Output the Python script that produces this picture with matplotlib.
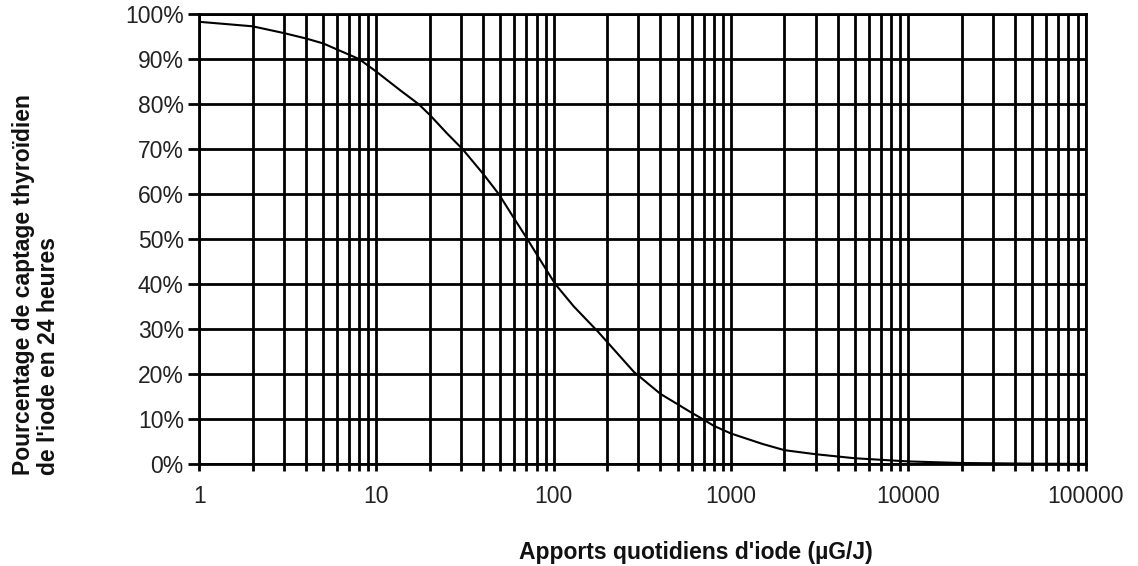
import matplotlib
matplotlib.use("Agg")
import matplotlib.pyplot as plt
from matplotlib.ticker import FixedLocator, FixedFormatter, LogLocator, NullFormatter

plt.rcParams['font.family'] = ['Liberation Sans', 'DejaVu Sans']

###-----------------data------------------###
apports = [1, 2, 3, 4, 5, 7, 8, 10, 13.7, 17.3, 20, 25, 30.6, 40, 49, 60, 71, 85,
           102, 130, 177, 283, 400, 500, 600, 700, 800, 1000, 1500, 2000, 3000,
           5000, 10000, 20000, 50000, 100000]
captage = [98.3, 97.3, 95.8, 94.6, 93.5, 91.0, 90.0, 87.2, 83.0, 80.0, 77.6, 73.5,
           70.0, 64.5, 60.0, 54.5, 50.0, 45.0, 40.0, 35.0, 29.5, 20.5, 15.6,
           13.3, 11.4, 9.9, 8.5, 6.8, 4.5, 3.1, 2.2, 1.3, 0.6, 0.25, 0.1, 0.05]
x_ticks = [1, 10, 100, 1000, 10000, 100000]
x_labels = ["1", "10", "100", "1000", "10000", "100000"]
y_ticks = [0, 10, 20, 30, 40, 50, 60, 70, 80, 90, 100]
y_labels = [f"{v}%" for v in y_ticks]

###-----------------plot------------------###
fig = plt.figure(figsize=(11.38, 5.66), dpi=100)
ax = fig.add_axes([0.175, 0.180, 0.779, 0.795])

ax.plot(apports, captage, color='black', lw=1.5, zorder=3)

ax.set_xscale('log')
ax.set_xlim(1, 100000)
ax.set_ylim(0, 100)

ax.xaxis.set_major_locator(FixedLocator(x_ticks))
ax.xaxis.set_major_formatter(FixedFormatter(x_labels))
ax.xaxis.set_minor_locator(LogLocator(base=10, subs=range(2, 10), numticks=20))
ax.xaxis.set_minor_formatter(NullFormatter())
ax.set_yticks(y_ticks)
ax.set_yticklabels(y_labels)

ax.grid(True, which='both', axis='x', color='black', lw=2.0)
ax.grid(True, which='major', axis='y', color='black', lw=2.0)
ax.set_axisbelow(True)

for s in ax.spines.values():
    s.set_linewidth(2.0)

ax.tick_params(axis='both', which='both', direction='out', width=2.0, color='black',
               labelcolor='#222222', labelsize=16.5, length=5)
ax.tick_params(axis='y', length=8, pad=3)
ax.tick_params(axis='x', pad=10)

# axis titles
fig.text(696 / 1138, 1 - 553 / 566, "Apports quotidiens d'iode (µG/J)", fontsize=16.5,
         fontweight='bold', color='#111111', ha='center', va='center')
fig.text(36 / 1138, 1 - 475 / 566, "Pourcentage de captage thyroïdien\nde l'iode en 24 heures",
         fontsize=16.5, fontweight='bold', color='#111111', rotation=90,
         ha='center', va='bottom', multialignment='left', linespacing=1.15)

plt.savefig("out.png", dpi=100)
plt.close()
